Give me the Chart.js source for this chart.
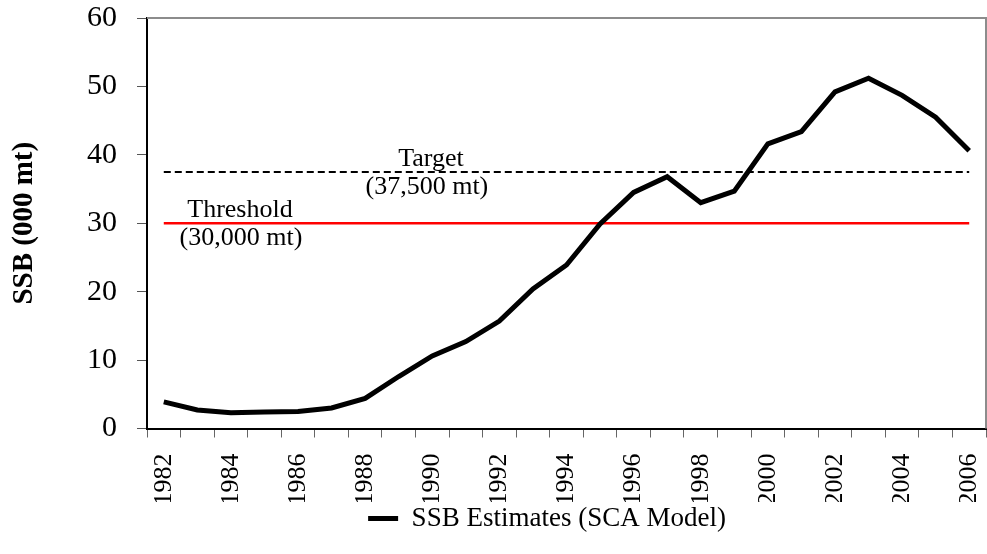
<!DOCTYPE html>
<html>
<head>
<meta charset="utf-8">
<script src="https://cdn.jsdelivr.net/npm/chart.js@4/dist/chart.umd.min.js"></script>
<style>
  html, body { margin: 0; padding: 0; background: #fff; }
  canvas { display: block; }
</style>
</head>
<body>
<canvas id="grafico" width="987" height="554"></canvas>
<script>
const anos = ["1982","1983","1984","1985","1986","1987","1988","1989","1990","1991","1992","1993",
  "1994","1995","1996","1997","1998","1999","2000","2001","2002","2003","2004","2005","2006"];
const ssb = [3.9, 2.7, 2.3, 2.4, 2.5, 3.0, 4.4, 7.6, 10.6, 12.7, 15.7, 20.4,
  23.9, 29.9, 34.5, 36.8, 33.0, 34.7, 41.6, 43.4, 49.2, 51.2, 48.7, 45.5, 40.6];
const alvo = 37.5;
const limite = 30;
const yTicks = [0, 10, 20, 30, 40, 50, 60];

const SERIF = "'Liberation Serif', 'Times New Roman', serif";

// textos de referência (Target / Threshold) ancorados nas escalas
const anotacoes = [
  { text: "Target", idx: 7.96, y: 39.4 },
  { text: "(37,500 mt)", idx: 7.84, y: 35.3 },
  { text: "Threshold", idx: 2.27, y: 31.9 },
  { text: "(30,000 mt)", idx: 2.3, y: 27.8 }
];

const pluginMoldura = {
  id: "moldura",
  afterLayout(chart) {
    // desloca a legenda para a mesma posição do original
    chart.legend.left += 54;
    chart.legend.right += 54;
  },
  beforeDatasetsDraw(chart) {
    const { ctx, chartArea: a } = chart;
    ctx.save();
    ctx.strokeStyle = "#8c8c8c";
    ctx.lineWidth = 2;
    ctx.beginPath();
    ctx.moveTo(a.left, a.top);
    ctx.lineTo(a.right, a.top);
    ctx.lineTo(a.right, a.bottom);
    ctx.stroke();
    ctx.restore();
  },
  afterDatasetsDraw(chart) {
    const { ctx, scales } = chart;
    ctx.save();
    ctx.fillStyle = "#000";
    ctx.font = "26px " + SERIF;
    ctx.textAlign = "center";
    ctx.textBaseline = "middle";
    anotacoes.forEach(a => {
      ctx.fillText(a.text, scales.x.getPixelForValue(a.idx), scales.y.getPixelForValue(a.y));
    });
    ctx.restore();
  }
};

new Chart(document.getElementById("grafico"), {
  type: "line",
  data: {
    labels: anos,
    datasets: [
      {
        label: "SSB Estimates (SCA Model)",
        data: ssb,
        borderColor: "#000",
        backgroundColor: "#000",
        borderWidth: 5,
        pointRadius: 0,
        tension: 0,
        order: 0
      },
      {
        label: "Target",
        data: anos.map(() => alvo),
        borderColor: "#000",
        borderWidth: 2,
        borderDash: [7, 4],
        pointRadius: 0,
        order: 2
      },
      {
        label: "Threshold",
        data: anos.map(() => limite),
        borderColor: "#ff0000",
        borderWidth: 2.5,
        pointRadius: 0,
        order: 1
      }
    ]
  },
  options: {
    responsive: false,
    animation: false,
    devicePixelRatio: 1,
    layout: { padding: { top: 18, right: 1, left: 0, bottom: 12 } },
    plugins: {
      tooltip: { enabled: false },
      legend: {
        position: "bottom",
        labels: {
          color: "#000",
          font: { family: SERIF, size: 27 },
          boxWidth: 30,
          boxHeight: 5,
          padding: 3,
          generateLabels: () => [{
            text: "SSB Estimates (SCA Model)",
            fillStyle: "#000",
            strokeStyle: "#000",
            lineWidth: 0,
            datasetIndex: 0
          }]
        }
      }
    },
    scales: {
      x: {
        type: "category",
        offset: true,
        grid: { display: true, offset: true, drawOnChartArea: false, drawTicks: true, tickLength: 9, color: "#666" },
        border: { color: "#000", width: 2 },
        ticks: {
          autoSkip: false,
          minRotation: 90,
          maxRotation: 90,
          padding: 16,
          color: "#000",
          font: { family: SERIF, size: 26 },
          callback: (v, i) => (i % 2 === 0 ? anos[i] : "")
        },
        afterFit: s => {
          s.height = 73.5;
          s.paddingLeft = 0;
          s.paddingRight = 0;
        }
      },
      y: {
        min: 0,
        max: 60,
        afterBuildTicks: s => { s.ticks = yTicks.map(v => ({ value: v })); },
        grid: { display: true, drawOnChartArea: false, drawTicks: true, tickLength: 10, color: "#555" },
        border: { color: "#000", width: 2 },
        ticks: {
          padding: 20,
          color: "#000",
          font: { family: SERIF, size: 30 }
        },
        title: {
          display: true,
          text: "SSB (000 mt)",
          color: "#000",
          font: { family: SERIF, size: 29, weight: "bold" },
          padding: { top: 7, bottom: 0 }
        },
        afterFit: s => {
          s.width = 147;
          s.paddingTop = 0;
          s.paddingBottom = 0;
        }
      }
    }
  },
  plugins: [pluginMoldura]
});
</script>
</body>
</html>
